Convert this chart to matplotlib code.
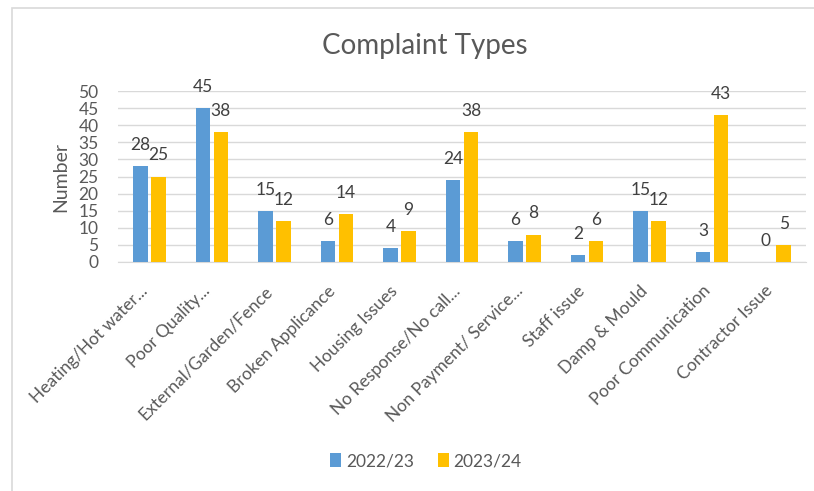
import matplotlib
matplotlib.use("Agg")
import matplotlib.pyplot as plt
import numpy as np

categories = ["Heating/Hot water...", "Poor Quality...", "External/Garden/Fence",
              "Broken Applicance", "Housing Issues", "No Response/No call...",
              "Non Payment/ Service...", "Staff issue", "Damp & Mould",
              "Poor Communication", "Contractor Issue"]
series_names = ["2022/23", "2023/24"]
values_2022 = [28, 45, 15, 6, 4, 24, 6, 2, 15, 3, 0]
values_2023 = [25, 38, 12, 14, 9, 38, 8, 6, 12, 43, 5]
yticks = [0, 5, 10, 15, 20, 25, 30, 35, 40, 45, 50]

plt.rcParams['font.family'] = ['Lato', 'DejaVu Sans']

W, H = 814, 491
fig = plt.figure(figsize=(W/100, H/100), dpi=100)
fig.patch.set_facecolor("white")

# chart border
fig.add_artist(plt.Rectangle((12/W, -0.1), 1.1, 1 - 8/H + 0.1, transform=fig.transFigure,
                             fill=False, edgecolor="#d9d9d9", linewidth=1.2))

ax = fig.add_axes([118/W, 1 - 262/H, (806-118)/W, (262-91)/H])
x = np.arange(len(categories))
bw = 0.232
off = 0.144
b1 = ax.bar(x - off, values_2022, bw, color="#5B9BD5", label=series_names[0], zorder=3)
b2 = ax.bar(x + off, values_2023, bw, color="#FFC000", label=series_names[1], zorder=3)

for bars, vals in ((b1, values_2022), (b2, values_2023)):
    for r, v in zip(bars, vals):
        ax.annotate(str(v), (r.get_x() + r.get_width()/2, v), xytext=(0, 9.5),
                    textcoords="offset points", ha="center", va="bottom",
                    fontsize=12.5, color="#404040")

ax.set_xlim(-0.5, len(categories) - 0.5)
ax.set_ylim(0, 50)
ax.set_yticks(yticks)
ax.set_yticklabels([str(t) for t in yticks], fontsize=12.5, color="#595959")
ax.tick_params(axis="y", length=0, pad=14)
ax.tick_params(axis="x", length=0, pad=19)
ax.set_xticks(x - 0.07)
ax.set_xticklabels(categories, rotation=45, ha="right", va="center",
                   rotation_mode="anchor", fontsize=12.5, color="#595959")
ax.grid(axis="y", color="#d9d9d9", linewidth=1, zorder=0)
for s in ("top", "right", "left"):
    ax.spines[s].set_visible(False)
ax.spines["bottom"].set_color("#d9d9d9")
ax.set_ylabel("Number", fontsize=14, color="#595959")
ax.yaxis.set_label_coords((69 - 118) / (806 - 118), 0.5)

fig.text(425/W, 1 - 46/H, "Complaint Types", ha="center", va="center",
         fontsize=20, color="#595959")

leg = fig.legend(handles=[b1, b2], labels=series_names, loc="center",
                 bbox_to_anchor=(426/W, 1 - 461/H), ncol=2, frameon=False,
                 fontsize=12.5, handlelength=0.6, handleheight=0.9,
                 handletextpad=0.3, columnspacing=1.4)
for t in leg.get_texts():
    t.set_color("#595959")

fig.savefig("out.png", dpi=100)
